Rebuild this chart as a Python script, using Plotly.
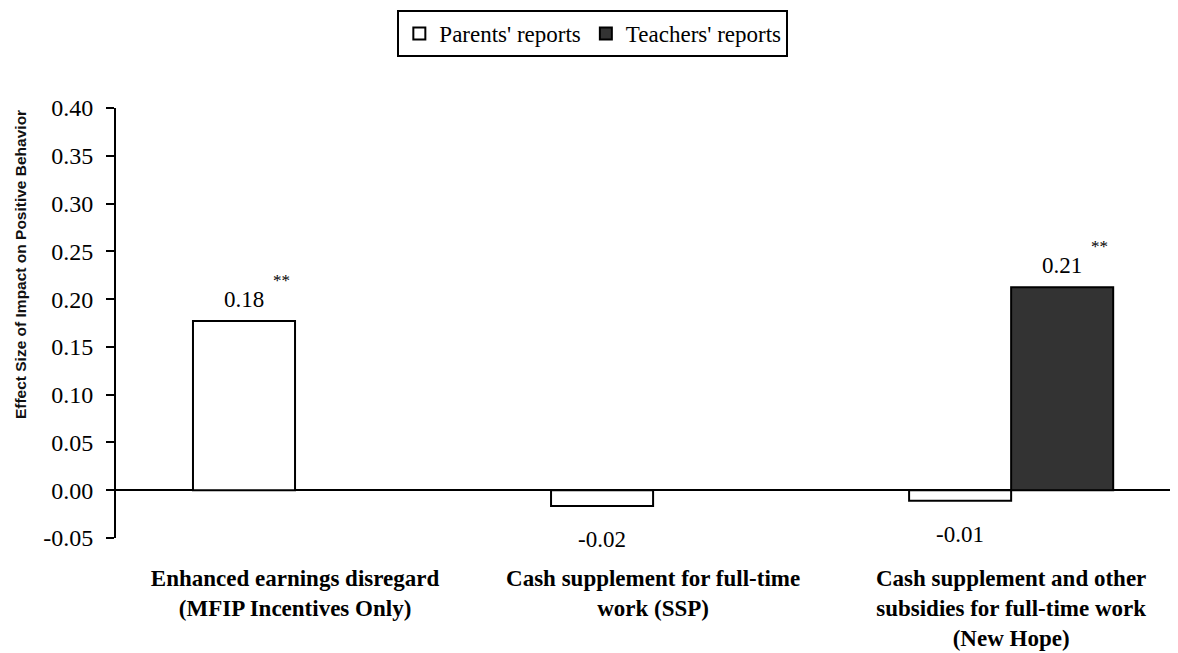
import plotly.graph_objects as go

# ---- data ----
categories = [
    "Enhanced earnings disregard<br>(MFIP Incentives Only)",
    "Cash supplement for full-time<br>work (SSP)",
    "Cash supplement and other<br>subsidies for full-time work<br>(New Hope)",
]
parents = [0.177, -0.0165, -0.011]
teachers = [None, None, 0.2125]
parents_labels = ["0.18", "-0.02", "-0.01"]
teachers_labels = ["", "", "0.21"]
parents_sig = ["**", "", ""]
teachers_sig = ["", "", "**"]
y_ticks = [0.40, 0.35, 0.30, 0.25, 0.20, 0.15, 0.10, 0.05, 0.00, -0.05]
y_ticktext = ["0.40", "0.35", "0.30", "0.25", "0.20", "0.15", "0.10", "0.05", "0.00", "-0.05"]

SERIF = "Liberation Serif, Times New Roman, serif"
BAR_W = 0.285

fig = go.Figure()
fig.add_trace(go.Bar(
    name="Parents' reports", x=list(range(len(categories))), y=parents,
    marker=dict(color="white", line=dict(color="black", width=2)),
))
fig.add_trace(go.Bar(
    name="Teachers' reports", x=list(range(len(categories))), y=teachers,
    marker=dict(color="#333333", line=dict(color="black", width=2)),
))

annotations = []
for series, labels, sigs, off in [
    (parents, parents_labels, parents_sig, -BAR_W / 2),
    (teachers, teachers_labels, teachers_sig, BAR_W / 2),
]:
    for i, (v, lab, sig) in enumerate(zip(series, labels, sigs)):
        if v is None or not lab:
            continue
        shift = 22 if v >= 0 else -34
        annotations.append(dict(
            x=i + off, y=v, xref="x", yref="y", text=lab, showarrow=False,
            yshift=shift, font=dict(family=SERIF, size=23, color="black"),
        ))
        if sig:
            annotations.append(dict(
                x=i + off, y=v, xref="x", yref="y", text=sig, showarrow=False,
                xshift=37, yshift=41, font=dict(family=SERIF, size=17, color="black"),
            ))

annotations.append(dict(
    x=-0.0904, y=0.637, xref="paper", yref="paper", textangle=-90,
    xanchor="center", yanchor="middle",
    text="<b>Effect Size of Impact on Positive Behavior</b>", showarrow=False,
    font=dict(family="Liberation Sans, Arial, sans-serif", size=15.5, color="#111"),
))

fig.update_layout(
    template="none",
    width=1170, height=645,
    margin=dict(l=108, r=0, t=100, b=115, autoexpand=False),
    paper_bgcolor="white", plot_bgcolor="white",
    barmode="group", bargap=1 - 2 * BAR_W, bargroupgap=0,
    font=dict(family=SERIF, size=22, color="black"),
    showlegend=True,
    legend=dict(
        orientation="h", x=0.449, xanchor="center", y=1.228, yanchor="top",
        bordercolor="black", borderwidth=2, bgcolor="white",
        font=dict(family=SERIF, size=23, color="black"),
        itemwidth=30, tracegroupgap=0,
    ),
    annotations=annotations,
)
fig.update_xaxes(
    type="linear", range=[-0.5, 2.466], automargin=False,
    tickmode="array", tickvals=list(range(len(categories))), ticktext=[f"<b>{c}</b>" for c in categories],
    tickfont=dict(family=SERIF, size=23, color="black"),
    showline=False, showgrid=False, zeroline=False, ticks="",
    ticklabelstandoff=24,
)
fig.update_yaxes(
    range=[-0.05, 0.40], automargin=False,
    tickmode="array", tickvals=y_ticks, ticktext=y_ticktext,
    showline=True, linecolor="black", linewidth=2,
    ticks="outside", ticklen=8, tickwidth=2, tickcolor="black",
    tickfont=dict(family=SERIF, size=24, color="black"),
    showgrid=False, zeroline=True, zerolinecolor="black", zerolinewidth=2,
    ticklabelstandoff=8,
)

fig.write_html("out.html")
